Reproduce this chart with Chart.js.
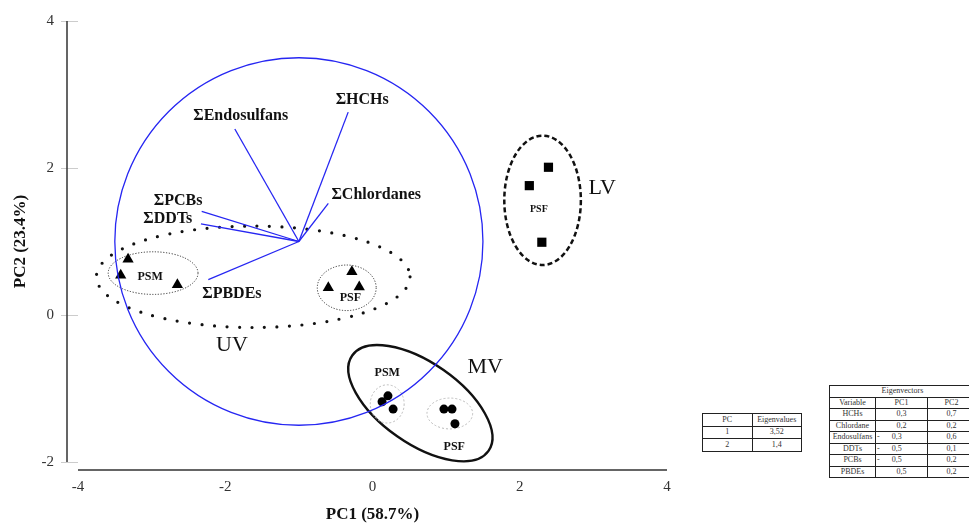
<!DOCTYPE html>
<html lang="en">
<head>
<meta charset="UTF-8">
<title>PCA biplot - PC1 / PC2</title>
<script src="https://cdn.jsdelivr.net/npm/chart.js@4.4.0/dist/chart.umd.min.js"></script>
<style>
    body { margin: 0; background: #fff; overflow: hidden; }
    #wrap { position: absolute; left: 0; top: 0; width: 969px; height: 523px; }
    table {
        position: absolute;
        border-collapse: collapse;
        font-family: 'Liberation Serif', serif;
        font-size: 8px;
        color: #333;
        background: #fff;
        table-layout: fixed;
    }
    td { border: 1px solid #222; padding: 0 1px; text-align: center; line-height: 10px; height: 10.5px; white-space: nowrap; overflow: hidden; }
    #eigval { left: 702px; top: 413px; width: 100px; border: 1.5px solid #111; }
    #eigval td { height: 11.5px; }
    #eigvec { left: 829px; top: 385px; width: 146px; border: 1.5px solid #111; }
    td.neg { text-align: left; }
    td.neg span { display: inline-block; width: 70%; text-align: center; }
</style>
</head>
<body>
<div id="wrap"><canvas id="pca"></canvas></div>
<table id="eigval"></table>
<table id="eigvec"></table>
<script>
    // sample scores (PC1, PC2)
    const uvX = [-3.32, -3.42, -2.65, -0.28, -0.60, -0.18];
    const uvY = [0.76, 0.54, 0.41, 0.59, 0.37, 0.38];
    const lvX = [2.39, 2.13, 2.30];
    const lvY = [2.01, 1.76, 0.99];
    const mvX = [0.13, 0.21, 0.28, 0.97, 1.08, 1.12];
    const mvY = [-1.18, -1.10, -1.28, -1.28, -1.28, -1.48];

    // loading vectors, drawn from the circle centre
    const variables = ['ΣHCHs', 'ΣChlordanes', 'ΣEndosulfans', 'ΣDDTs', 'ΣPCBs', 'ΣPBDEs'];
    const loadX = [-0.33, -0.60, -1.87, -2.33, -2.32, -2.23];
    const loadY = [2.76, 1.52, 2.53, 1.24, 1.41, 0.48];
    const loadLabelX = [-0.14, 0.05, -1.79, -2.78, -2.64, -1.91];
    const loadLabelY = [2.93, 1.63, 2.71, 1.31, 1.55, 0.29];
    const origin = { x: -1, y: 1 };
    const circleRadius = 2.5;

    // tables
    const pcs = [1, 2];
    const eigenvalues = [3.52, 1.4];
    const tableVars = ['HCHs', 'Chlordane', 'Endosulfans', 'DDTs', 'PCBs', 'PBDEs'];
    const vecPC1 = [0.3, 0.2, -0.3, -0.5, -0.5, 0.5];
    const vecPC2 = [0.7, 0.2, 0.6, 0.1, 0.2, 0.2];

    const serif = "'Liberation Serif', 'DejaVu Serif', serif";

    // group outlines
    const groups = [
        { cx: -1.62, cy: 0.52, rx: 2.13, ry: 0.69, rot: 0, color: '#111', width: 3.2, dash: [0, 12.5], cap: 'round' },
        { cx: -2.98, cy: 0.57, rx: 0.61, ry: 0.29, rot: 0, color: '#333', width: 1, dash: [1.2, 1.6] },
        { cx: -0.35, cy: 0.37, rx: 0.40, ry: 0.31, rot: 0, color: '#333', width: 1, dash: [1.2, 1.6] },
        { cx: 2.31, cy: 1.56, rx: 0.52, ry: 0.88, rot: 0, color: '#111', width: 2.5, dash: [5, 3] },
        { cx: 0.65, cy: -1.20, rx: 1.13, ry: 0.55, rot: 35, color: '#111', width: 2.4, dash: [] },
        { cx: 0.20, cy: -1.21, rx: 0.23, ry: 0.26, rot: 0, color: '#bbb', width: 1, dash: [2, 2] },
        { cx: 1.05, cy: -1.34, rx: 0.31, ry: 0.21, rot: 0, color: '#bbb', width: 1, dash: [2, 2] }
    ];

    const tags = [
        { t: 'PSM', x: -3.02, y: 0.52, font: 'bold 12px ' + serif },
        { t: 'PSF', x: -0.30, y: 0.23, font: 'bold 12px ' + serif },
        { t: 'UV', x: -1.91, y: -0.41, font: '22px ' + serif },
        { t: 'MV', x: 1.53, y: -0.71, font: '22px ' + serif },
        { t: 'PSM', x: 0.20, y: -0.79, font: 'bold 12px ' + serif },
        { t: 'PSF', x: 1.11, y: -1.80, font: 'bold 12px ' + serif },
        { t: 'LV', x: 3.12, y: 1.73, font: '22px ' + serif },
        { t: 'PSF', x: 2.26, y: 1.44, font: 'bold 10px ' + serif }
    ];

    function pts(xs, ys) {
        return xs.map((v, i) => ({ x: v, y: ys[i] }));
    }

    const datasets = [
        { data: pts(uvX, uvY), pointStyle: 'triangle', pointRadius: 6.5, backgroundColor: '#000', borderColor: '#000', borderWidth: 0 },
        { data: pts(lvX, lvY), pointStyle: 'rect', pointRadius: 6.5, backgroundColor: '#000', borderColor: '#000', borderWidth: 0 },
        { data: pts(mvX, mvY), pointStyle: 'circle', pointRadius: 4.5, backgroundColor: '#000', borderColor: '#000', borderWidth: 0 }
    ];
    variables.forEach((v, i) => {
        datasets.push({
            label: v,
            data: [origin, { x: loadX[i], y: loadY[i] }],
            showLine: true,
            borderColor: '#2626f2',
            borderWidth: 1.3,
            pointRadius: 0
        });
    });

    const overlay = {
        id: 'overlay',
        beforeDatasetsDraw(chart) {
            const { ctx, scales: { x, y } } = chart;
            const ux = x.getPixelForValue(1) - x.getPixelForValue(0);
            const uy = y.getPixelForValue(0) - y.getPixelForValue(1);
            groups.forEach(g => {
                ctx.save();
                ctx.beginPath();
                ctx.ellipse(x.getPixelForValue(g.cx), y.getPixelForValue(g.cy), g.rx * ux, g.ry * uy,
                    g.rot * Math.PI / 180, 0, 2 * Math.PI);
                ctx.strokeStyle = g.color;
                ctx.lineWidth = g.width;
                ctx.setLineDash(g.dash);
                ctx.lineCap = g.cap || 'butt';
                ctx.stroke();
                ctx.restore();
            });
        },
        afterDatasetsDraw(chart) {
            const { ctx, scales: { x, y } } = chart;
            const ux = x.getPixelForValue(1) - x.getPixelForValue(0);
            const uy = y.getPixelForValue(0) - y.getPixelForValue(1);
            // correlation circle
            ctx.save();
            ctx.beginPath();
            ctx.ellipse(x.getPixelForValue(origin.x), y.getPixelForValue(origin.y),
                circleRadius * ux, circleRadius * uy, 0, 0, 2 * Math.PI);
            ctx.strokeStyle = '#2626f2';
            ctx.lineWidth = 1.3;
            ctx.stroke();

            ctx.textAlign = 'center';
            ctx.textBaseline = 'middle';
            ctx.fillStyle = '#111';
            ctx.font = 'bold 16px ' + serif;
            variables.forEach((v, i) => {
                ctx.fillText(v, x.getPixelForValue(loadLabelX[i]), y.getPixelForValue(loadLabelY[i]));
            });
            tags.forEach(t => {
                ctx.font = t.font;
                ctx.fillText(t.t, x.getPixelForValue(t.x), y.getPixelForValue(t.y));
            });
            ctx.restore();
        },
        afterDraw(chart) {
            const { ctx, scales: { x, y } } = chart;
            ctx.save();
            ctx.strokeStyle = '#333';
            ctx.lineWidth = 1.5;
            // offset axis lines
            const ax = chart.chartArea.left - 11;
            ctx.beginPath();
            ctx.moveTo(ax, y.getPixelForValue(4));
            ctx.lineTo(ax, y.getPixelForValue(-2));
            const ay = chart.chartArea.bottom + 8;
            ctx.moveTo(x.getPixelForValue(-4), ay);
            ctx.lineTo(x.getPixelForValue(4), ay);
            ctx.stroke();
            ctx.restore();
        }
    };

    new Chart(document.getElementById('pca'), {
        type: 'scatter',
        data: { datasets },
        options: {
            responsive: true,
            maintainAspectRatio: false,
            animation: false,
            layout: { padding: { left: 0, right: 302, top: 21, bottom: 0 } },
            plugins: { legend: { display: false }, tooltip: { enabled: false } },
            scales: {
                x: {
                    type: 'linear',
                    min: -4, max: 4,
                    afterFit: s => { s.height = 61; },
                    ticks: { stepSize: 2, padding: 16, color: '#333', font: { family: serif, size: 15 } },
                    grid: { drawOnChartArea: false, drawTicks: false },
                    border: { display: false },
                    title: {
                        display: true, text: 'PC1 (58.7%)', color: '#111',
                        font: { family: serif, size: 17, weight: 'bold', lineHeight: 1 },
                        padding: 0
                    }
                },
                y: {
                    min: -2, max: 4,
                    afterFit: s => { s.width = 78; },
                    ticks: { stepSize: 2, padding: 7, color: '#333', font: { family: serif, size: 15 } },
                    grid: { drawOnChartArea: false, drawTicks: true, tickLength: 17, color: '#ccc' },
                    border: { display: false },
                    title: {
                        display: true, text: 'PC2 (23.4%)', color: '#111',
                        font: { family: serif, size: 17, weight: 'bold', lineHeight: 1 },
                        padding: { top: 12, bottom: 0 }
                    }
                }
            }
        },
        plugins: [overlay]
    });

    // tables
    const fmt = v => Math.abs(v).toString().replace('.', ',');
    let h = '<colgroup><col style="width:50%"><col style="width:50%"></colgroup>';
    h += '<tr><td>PC</td><td>Eigenvalues</td></tr>';
    pcs.forEach((p, i) => { h += '<tr><td>' + p + '</td><td>' + fmt(eigenvalues[i]) + '</td></tr>'; });
    document.getElementById('eigval').innerHTML = h;

    let g = '<colgroup><col style="width:46px"><col style="width:52px"><col style="width:48px"></colgroup>';
    g += '<tr><td colspan="3">Eigenvectors</td></tr>';
    g += '<tr><td>Variable</td><td>PC1</td><td>PC2</td></tr>';
    tableVars.forEach((v, i) => {
        const neg = vecPC1[i] < 0;
        g += '<tr><td>' + v + '</td>' +
            (neg ? '<td class="neg">-<span>' + fmt(vecPC1[i]) + '</span></td>' : '<td>' + fmt(vecPC1[i]) + '</td>') +
            '<td>' + fmt(vecPC2[i]) + '</td></tr>';
    });
    document.getElementById('eigvec').innerHTML = g;
</script>
</body>
</html>
